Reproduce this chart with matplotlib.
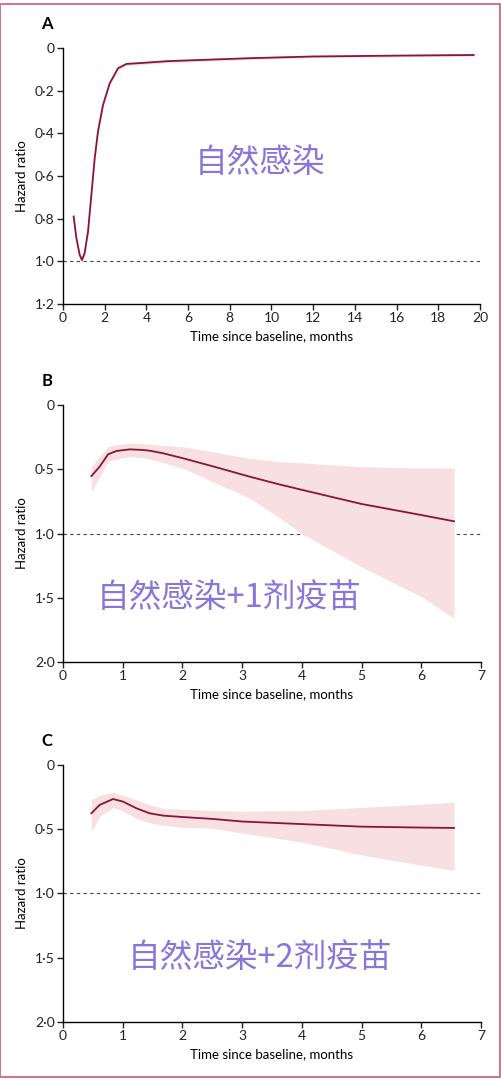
import numpy as np
import matplotlib.pyplot as plt
from matplotlib.patches import Rectangle

plt.rcParams['font.family'] = ['Lato', 'DejaVu Sans']

# Panel A - natural infection
a_x = [0.51, 0.64, 0.80, 0.91, 1.04, 1.2, 1.36, 1.52, 1.68, 1.92, 2.24, 2.64, 3.04, 3.84, 5.0, 8.97, 12.0, 16.0, 19.7]
a_hr = [0.79, 0.89, 0.97, 0.994, 0.96, 0.86, 0.69, 0.517, 0.39, 0.267, 0.166, 0.095, 0.075, 0.07, 0.062, 0.048, 0.04, 0.036, 0.033]
a_lo = [0.75, 0.87, 0.955, 0.98, 0.945, 0.845, 0.675, 0.503, 0.377, 0.255, 0.156, 0.086, 0.067, 0.062, 0.055, 0.042, 0.034, 0.03, 0.027]
a_hi = [0.81, 0.905, 0.985, 1.008, 0.975, 0.875, 0.705, 0.531, 0.403, 0.279, 0.176, 0.104, 0.083, 0.078, 0.069, 0.054, 0.046, 0.042, 0.039]

# Panel B - natural infection + 1 dose
b_x = [0.475, 0.614, 0.754, 0.893, 1.117, 1.34, 1.457, 1.68, 2.015, 2.57, 3.13, 3.6, 4.0, 5.0, 6.0, 6.55]
b_hr = [0.553, 0.48, 0.384, 0.358, 0.345, 0.35, 0.356, 0.376, 0.415, 0.485, 0.558, 0.615, 0.66, 0.77, 0.856, 0.905]
b_lo = [0.48, 0.40, 0.324, 0.31, 0.298, 0.302, 0.305, 0.315, 0.325, 0.37, 0.415, 0.44, 0.45, 0.48, 0.49, 0.49]
b_hi = [0.675, 0.56, 0.44, 0.42, 0.402, 0.41, 0.42, 0.45, 0.493, 0.61, 0.726, 0.87, 1.0, 1.26, 1.49, 1.66]

# Panel C - natural infection + 2 doses
c_x = [0.475, 0.614, 0.838, 1.005, 1.23, 1.45, 1.675, 2.0, 2.51, 3.0, 4.0, 5.0, 6.0, 6.55]
c_hr = [0.376, 0.311, 0.265, 0.285, 0.337, 0.376, 0.394, 0.405, 0.42, 0.44, 0.46, 0.48, 0.487, 0.49]
c_lo = [0.272, 0.235, 0.213, 0.235, 0.272, 0.31, 0.337, 0.345, 0.355, 0.36, 0.355, 0.33, 0.305, 0.29]
c_hi = [0.519, 0.40, 0.33, 0.36, 0.415, 0.45, 0.467, 0.485, 0.493, 0.53, 0.60, 0.70, 0.78, 0.82]

panels = [
    dict(label='A', x=a_x, hr=a_hr, lo=a_lo, hi=a_hi, xmax=20, xticks=range(0, 21, 2),
         ymax=1.2, yticks=[0, 0.2, 0.4, 0.6, 0.8, 1.0, 1.2],
         note='自然感染', note_xy=(0.472, 0.55),
         pos=[0.1255, 0.7185, 0.8305, 0.2371]),
    dict(label='B', x=b_x, hr=b_hr, lo=b_lo, hi=b_hi, xmax=7, xticks=range(0, 8),
         ymax=2.0, yticks=[0, 0.5, 1.0, 1.5, 2.0],
         note='自然感染+1剂疫苗', note_xy=(0.397, 0.25),
         pos=[0.1255, 0.387, 0.8325, 0.238]),
    dict(label='C', x=c_x, hr=c_hr, lo=c_lo, hi=c_hi, xmax=7, xticks=range(0, 8),
         ymax=2.0, yticks=[0, 0.5, 1.0, 1.5, 2.0],
         note='自然感染+2剂疫苗', note_xy=(0.472, 0.25),
         pos=[0.1255, 0.0537, 0.8325, 0.238]),
]

line_col = '#8a1538'
band_col = '#f7dfe2'
note_col = '#8577dc'

fig = plt.figure(figsize=(5.02, 10.8), dpi=100)

for p in panels:
    ax = fig.add_axes(p['pos'])
    ax.axhline(1.0, color='#444444', lw=0.8, ls=(0, (3, 3)), zorder=1)
    ax.fill_between(p['x'], p['lo'], p['hi'], color=band_col, lw=0, zorder=2)
    ax.plot(p['x'], p['hr'], color=line_col, lw=1.3, zorder=3)
    ax.set_xlim(0, p['xmax'])
    ax.set_ylim(p['ymax'], 0)
    ax.set_xticks(list(p['xticks']))
    ax.set_yticks(p['yticks'])
    ax.set_yticklabels([('%g' % v if v == 0 else '%.1f' % v).replace('.', '·') for v in p['yticks']])
    for s in ['top', 'right']:
        ax.spines[s].set_visible(False)
    for s in ['left', 'bottom']:
        ax.spines[s].set_linewidth(1.0)
    ax.tick_params(labelsize=10, length=4, width=1.0, pad=2, colors='#222222')
    ax.set_xlabel('Time since baseline, months', fontsize=9.5, labelpad=4)
    ax.set_ylabel('Hazard ratio', fontsize=9.5, labelpad=5)
    ax.annotate(p['label'], xy=(0, 1), xycoords='axes fraction',
                xytext=(-11.5, 17), textcoords='offset points',
                fontsize=12, fontweight='bold', ha='center', va='center')
    ax.text(p['note_xy'][0], p['note_xy'][1], p['note'], transform=ax.transAxes,
            fontsize=23.5, color=note_col, ha='center', va='center',
            family=['Noto Sans CJK SC', 'DejaVu Sans'])

fig.patches.append(Rectangle((0.0, 3.5 / 1080), 500 / 502, 1073 / 1080,
                             transform=fig.transFigure, fill=False,
                             edgecolor='#c97a92', lw=1.5))

fig.savefig('out.png', dpi=100)
